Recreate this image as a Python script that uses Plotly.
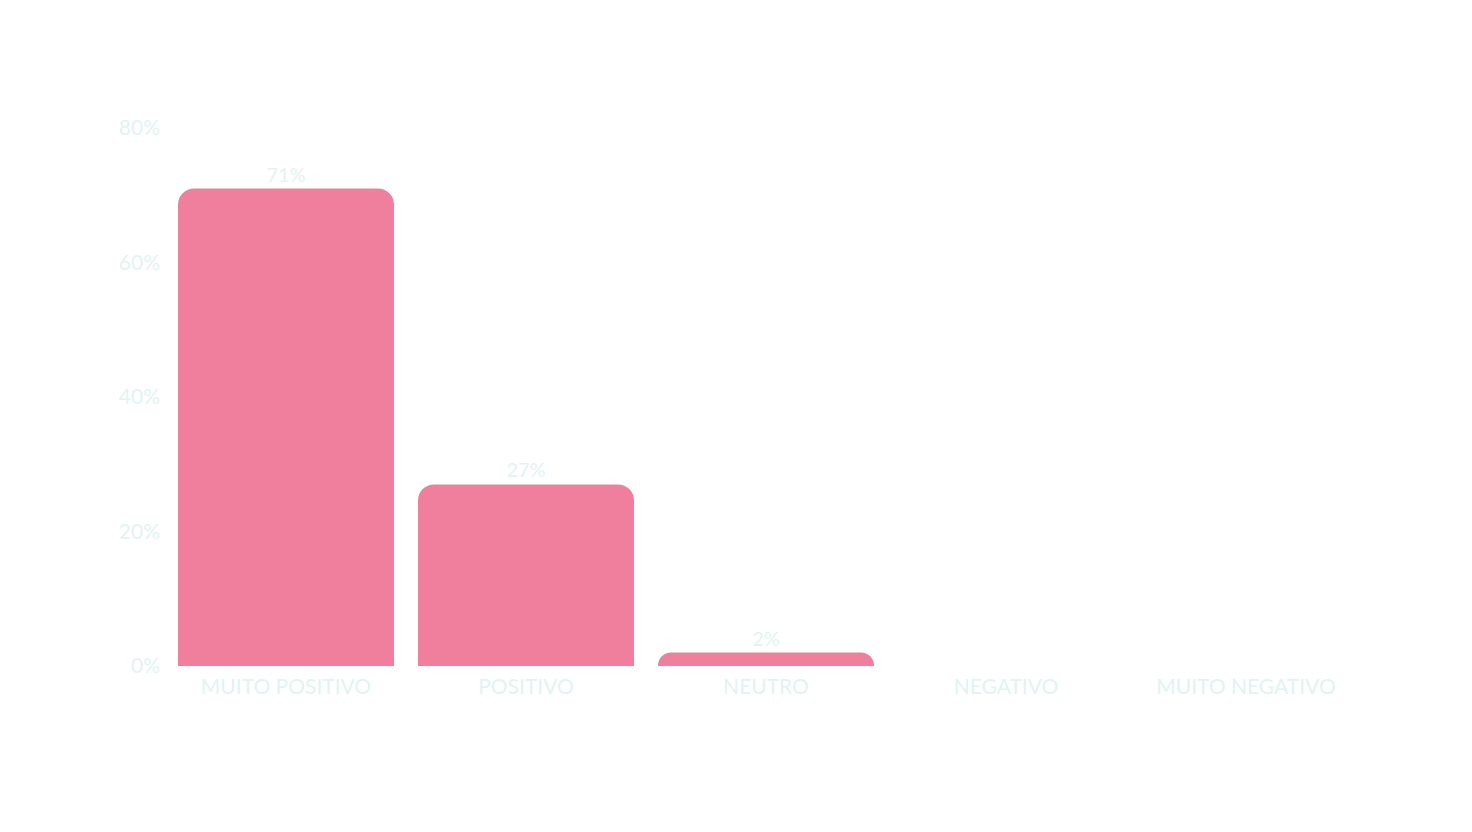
import plotly.graph_objects as go

categories = ["MUITO POSITIVO", "POSITIVO", "NEUTRO", "NEGATIVO", "MUITO NEGATIVO"]
values = [71, 27, 2, 0, 0]
labels = ["71%", "27%", "2%", "", ""]
tick_vals = [0, 20, 40, 60, 80]
tick_text = ["0%", "20%", "40%", "60%", "80%"]

txt_color = "#e3f3f1"
bar_color = "#ef7f9c"

fig = go.Figure(go.Bar(
    x=categories, y=values, text=labels, textposition="outside",
    textfont=dict(color=txt_color, size=20),
    marker=dict(color=bar_color, cornerradius=16, line=dict(width=0)),
    cliponaxis=False,
))
fig.update_layout(
    width=1472, height=832,
    paper_bgcolor="white", plot_bgcolor="white",
    margin=dict(l=158, r=114, t=120, b=174),
    font=dict(family="Lato", color=txt_color, size=20),
    bargap=0.1, showlegend=False,
    xaxis=dict(showgrid=False, showline=False, zeroline=False, ticks="",
               ticklabelstandoff=6,
               tickfont=dict(size=21, color=txt_color)),
    yaxis=dict(range=[0, 80], tickvals=tick_vals, ticktext=tick_text,
               showgrid=False, showline=False, zeroline=False, ticks="",
               ticklabelstandoff=5,
               tickfont=dict(size=21, color=txt_color)),
)
fig.write_html("out.html")
